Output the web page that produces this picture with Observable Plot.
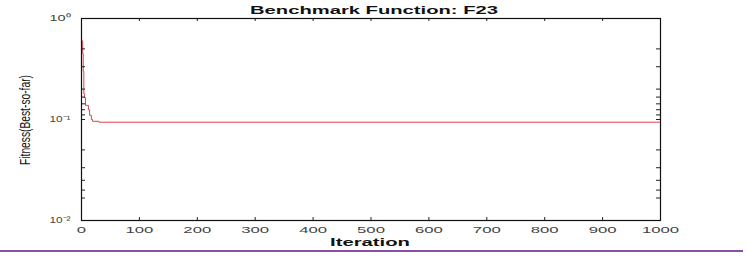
<!DOCTYPE html>
<html>
<head>
<meta charset="utf-8">
<script src="https://cdn.jsdelivr.net/npm/d3@7"></script>
<script src="https://cdn.jsdelivr.net/npm/@observablehq/plot@0.6"></script>
<style>
  html, body { margin: 0; padding: 0; background: #fff; }
  #chart { width: 747px; height: 258px; }
</style>
</head>
<body>
<div id="chart"></div>
<script>
// ---- data ----
const iterations = [1, 2, 3, 4, 5, 7, 12, 14, 17, 19, 30, 1000];
const fitness    = [0.60, 0.45, 0.30, 0.18, 0.165, 0.138, 0.125, 0.11, 0.10, 0.096, 0.094, 0.094];
const xTicks = [0, 100, 200, 300, 400, 500, 600, 700, 800, 900, 1000];
const xTickLabels = ["0", "100", "200", "300", "400", "500", "600", "700", "800", "900", "1000"];
const yMajorTicks = [1, 0.1, 0.01];
const yTickLabels = ["10⁰", "10⁻¹", "10⁻²"];
const yMinorTicks = [0.5, 0.333, 0.2, 0.1667, 0.1429, 0.125, 0.111, 0.05, 0.0333, 0.025, 0.02, 0.0167];
const titleText = "Benchmark Function: F23";
const xLabel = "Iteration";
const yLabel = "Fitness(Best-so-far)";

const series = iterations.map((it, i) => ({iter: it, fit: fitness[i]}));
const yAllTicks = yMajorTicks.concat(yMinorTicks);

const W = 747, H = 258, mL = 81, mR = 87, mT = 18, mB = 38;
const plotW = W - mL - mR, plotH = H - mT - mB;

const chart = Plot.plot({
  width: W, height: H,
  marginLeft: mL, marginRight: mR, marginTop: mT, marginBottom: mB,
  style: {fontFamily: "'Liberation Sans', Arial, sans-serif", fontSize: "9px", color: "#444", background: "white", overflow: "visible"},
  x: {domain: [0, 1000]},
  y: {type: "log", domain: [0.01, 1]},
  marks: [
    Plot.line(series, {x: "iter", y: "fit", curve: "step-after", stroke: "#e0404f", strokeWidth: 1}),
    Plot.ruleX(xTicks, {x: d => d, insetTop: plotH - 3, stroke: "#222"}),
    Plot.ruleX(xTicks, {x: d => d, insetBottom: plotH - 3, stroke: "#222"}),
    Plot.ruleY(yAllTicks, {y: d => d, insetRight: plotW - 4, stroke: "#222"}),
    Plot.ruleY(yAllTicks, {y: d => d, insetLeft: plotW - 4, stroke: "#222"}),
    Plot.frame({stroke: "#111", strokeWidth: 1.2}),
    Plot.axisX(xTicks, {tickSize: 0, tickPadding: 6, label: null,
      tickFormat: d => xTickLabels[xTicks.indexOf(d)]}),
    Plot.axisY(yMajorTicks, {tickSize: 0, tickPadding: 11, label: null,
      tickFormat: d => yTickLabels[yMajorTicks.indexOf(d)]})
  ]
});

document.getElementById("chart").appendChild(chart);
const svg = d3.select(chart);

// widen tick labels like the reference
svg.selectAll('g[aria-label="x-axis tick label"] text').each(function() {
  const n = this.textContent.length;
  this.setAttribute("textLength", n * 9.3);
  this.setAttribute("lengthAdjust", "spacingAndGlyphs");
});
svg.selectAll('g[aria-label="y-axis tick label"] text').each(function() {
  this.setAttribute("textLength", 21);
  this.setAttribute("lengthAdjust", "spacingAndGlyphs");
});

// title
svg.append("text")
  .attr("x", 250).attr("y", 14)
  .attr("text-anchor", "start")
  .attr("font-family", "'Liberation Sans', Arial, sans-serif")
  .attr("font-size", 10).attr("font-weight", "bold").attr("fill", "#111")
  .attr("textLength", 248).attr("lengthAdjust", "spacingAndGlyphs")
  .text(titleText);

// x label
svg.append("text")
  .attr("x", 330).attr("y", 246)
  .attr("text-anchor", "start")
  .attr("font-family", "'Liberation Sans', Arial, sans-serif")
  .attr("font-size", 10.5).attr("font-weight", "bold").attr("fill", "#111")
  .attr("textLength", 80).attr("lengthAdjust", "spacingAndGlyphs")
  .text(xLabel);

// y label
svg.append("text")
  .attr("transform", "translate(30,120) rotate(-90)")
  .attr("text-anchor", "middle")
  .attr("font-family", "'Liberation Sans', Arial, sans-serif")
  .attr("font-size", 14).attr("fill", "#111")
  .attr("textLength", 90).attr("lengthAdjust", "spacingAndGlyphs")
  .text(yLabel);

// purple separator line at the bottom of the figure
svg.append("line")
  .attr("x1", 0).attr("x2", 743).attr("y1", 251).attr("y2", 251)
  .attr("stroke", "#8a4fa8").attr("stroke-width", 2);
</script>
</body>
</html>
